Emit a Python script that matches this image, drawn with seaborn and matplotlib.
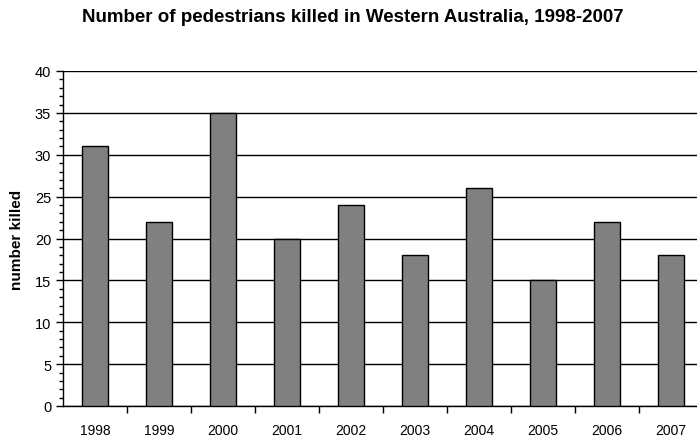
import matplotlib.pyplot as plt
import seaborn as sns
import numpy as np
from matplotlib.ticker import MultipleLocator, FixedLocator

# data
years = ['1998', '1999', '2000', '2001', '2002', '2003', '2004', '2005', '2006', '2007']
killed = [31, 22, 35, 20, 24, 18, 26, 15, 22, 18]

sns.set_style('white')
plt.rcParams['font.family'] = ['Liberation Sans', 'DejaVu Sans']
plt.rcParams['text.color'] = 'black'
plt.rcParams['axes.labelcolor'] = 'black'
plt.rcParams['xtick.color'] = 'black'
plt.rcParams['ytick.color'] = 'black'

fig = plt.figure(figsize=(6.97, 4.39), dpi=100)
ax = fig.add_axes([63 / 697, 32 / 439, 640 / 697, 335 / 439])

sns.barplot(x=years, y=killed, color='#808080', saturation=1, width=0.4,
            edgecolor='black', linewidth=1, ax=ax, zorder=3)

ax.set_ylim(0, 40)
ax.set_xlim(-0.5, len(years) - 0.5)
ax.yaxis.set_major_locator(MultipleLocator(5))
ax.yaxis.set_minor_locator(MultipleLocator(1))
ax.grid(axis='y', color='black', linewidth=1, zorder=0)
ax.grid(axis='x', visible=False)
ax.set_axisbelow(True)

# x ticks sit between the categories, labels stay centered
ax.xaxis.set_minor_locator(FixedLocator(np.arange(0.5, len(years) - 0.5, 1)))
ax.tick_params(axis='x', which='major', length=0, labelsize=10, pad=12)
ax.tick_params(axis='x', which='minor', length=5, width=1, color='black', direction='out', bottom=True)
ax.tick_params(axis='y', which='major', length=5, width=1, color='black', direction='out', left=True, labelsize=10.5)
ax.tick_params(axis='y', which='minor', length=3, width=1, color='black', direction='out', left=True)

for s in ['top', 'right']:
    ax.spines[s].set_visible(False)
for s in ['left', 'bottom']:
    ax.spines[s].set_color('black')
    ax.spines[s].set_linewidth(1)

ax.set_ylabel('number killed', fontweight='bold', fontsize=11, labelpad=8)
fig.text(353 / 697, 1 - 18 / 439, 'Number of pedestrians killed in Western Australia, 1998-2007',
         ha='center', va='center', fontweight='bold', fontsize=13.5)

plt.savefig('out.png', dpi=100)
